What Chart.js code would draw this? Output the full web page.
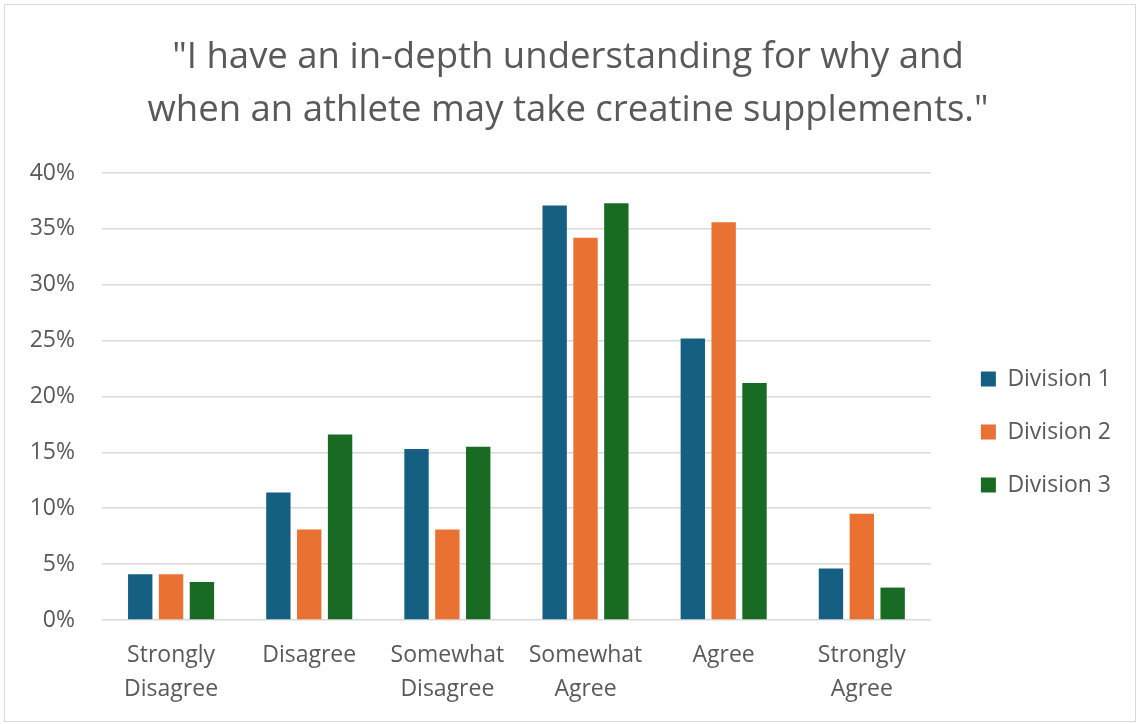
<!DOCTYPE html>
<html>
<head>
<meta charset="utf-8">
<script src="https://cdn.jsdelivr.net/npm/chart.js@4"></script>
<style>
  html, body { margin: 0; padding: 0; background: #fff; }
  .chart-box {
    position: absolute; left: 4px; top: 4px;
    width: 1130px; height: 716px;
    border: 1px solid #d9d9d9;
  }
</style>
</head>
<body>
<div class="chart-box"><canvas id="creatine-chart"></canvas></div>
<script>
// categories and series (percent of respondents)
const categories = [
    ['Strongly', 'Disagree'],
    ['Disagree'],
    ['Somewhat', 'Disagree'],
    ['Somewhat', 'Agree'],
    ['Agree'],
    ['Strongly', 'Agree']
];
const division1 = [4.1, 11.4, 15.3, 37.1, 25.2, 4.6];
const division2 = [4.1, 8.1, 8.1, 34.2, 35.6, 9.5];
const division3 = [3.4, 16.6, 15.5, 37.3, 21.2, 2.9];
const yTicks = [0, 5, 10, 15, 20, 25, 30, 35, 40];

const textColor = '#595959';
const gridColor = '#d9d9d9';
const fontName = "'Open Sans', sans-serif";

const ctx = document.getElementById('creatine-chart');

new Chart(ctx, {
    type: 'bar',
    data: {
        labels: categories,
        datasets: [
            { label: 'Division 1', data: division1, backgroundColor: '#156082' },
            { label: 'Division 2', data: division2, backgroundColor: '#e97132' },
            { label: 'Division 3', data: division3, backgroundColor: '#196b24' }
        ]
    },
    options: {
        responsive: true,
        maintainAspectRatio: false,
        animation: false,
        datasets: {
            bar: {
                categoryPercentage: 0.67,
                barPercentage: 0.79
            }
        },
        layout: {
            padding: { top: 16, left: 10, right: 14, bottom: 17 }
        },
        scales: {
            x: {
                grid: { display: false, drawTicks: false },
                border: { display: false },
                ticks: {
                    color: textColor,
                    font: { family: fontName, size: 23, lineHeight: 1.5 },
                    padding: 18,
                    maxRotation: 0,
                    autoSkip: false
                },
                afterFit: function (axis) { axis.height = 84; }
            },
            y: {
                min: 0,
                max: yTicks[yTicks.length - 1],
                afterBuildTicks: function (axis) {
                    axis.ticks = yTicks.map(v => ({ value: v }));
                },
                grid: { color: gridColor, lineWidth: 1.5, drawTicks: false },
                border: { display: false },
                ticks: {
                    color: textColor,
                    font: { family: fontName, size: 23 },
                    padding: 27,
                    callback: v => v + '%'
                },
                afterFit: function (axis) { axis.width = 87; }
            },
            // empty axis, only keeps the gap between plot and legend
            gap: {
                position: 'right',
                display: true,
                grid: { display: false, drawTicks: false },
                border: { display: false },
                ticks: { display: false },
                afterFit: function (axis) { axis.width = 20; }
            }
        },
        plugins: {
            title: {
                display: true,
                text: ['"I have an in-depth understanding for why and', 'when an athlete may take creatine supplements."'],
                color: textColor,
                font: { family: fontName, size: 36.5, weight: 'normal', lineHeight: 1.452 },
                padding: { top: 10, bottom: 36 }
            },
            legend: {
                position: 'right',
                title: {
                    display: true,
                    text: '',
                    font: { size: 10, lineHeight: 1 },
                    padding: { top: 0, bottom: 129 }
                },
                labels: {
                    color: textColor,
                    font: { family: fontName, size: 23 },
                    boxWidth: 15,
                    boxHeight: 15,
                    padding: 30
                }
            },
            tooltip: { enabled: false }
        }
    }
});
</script>
</body>
</html>
